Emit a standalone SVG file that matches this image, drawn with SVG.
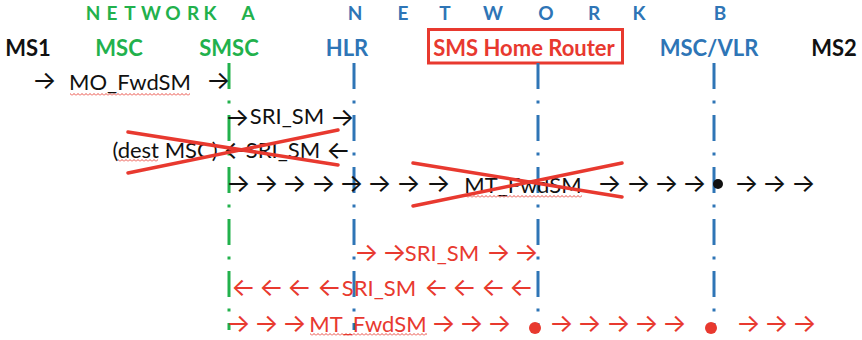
<svg xmlns="http://www.w3.org/2000/svg" width="862" height="340" viewBox="0 0 862 340">
  <style>
    .lbl { font-family: Lato, "Open Sans", sans-serif; font-size: 22px; text-anchor: middle; }
    .hd { font-weight: 700; }
    .net { font-family: Lato, "Open Sans", sans-serif; font-size: 19px; font-weight: 700; text-anchor: middle; white-space: pre; }
    .arw { font-family: Inter, "DejaVu Sans", sans-serif; font-size: 26px; }
    .blk { fill: #111; }
    .grn { fill: #22B14C; }
    .blu { fill: #2E75B6; }
    .red { fill: #E8392F; }
    .life { fill: none; stroke-width: 3; stroke-dasharray: 26 11.5 3 11.5; }
    .cross { stroke: #E8392F; stroke-width: 3.5; stroke-linecap: round; }
  </style>
  <defs>
    <pattern id="squiggle" width="4" height="3" patternUnits="userSpaceOnUse">
      <path d="M0,2.5 L2,0.5 L4,2.5" fill="none" stroke="#E8392F" stroke-width="0.9"/>
    </pattern>
  </defs>

  <rect width="862" height="340" fill="#fff"/>

  <!-- network titles -->
  <g id="network-a">
    <text class="net grn" y="20" xml:space="preserve" x="93 102 112 121 130 140 151 162 173 183 193 201 210 220 229 238 248">N E T W O R K   A</text>
  </g>
  <g id="network-b">
    <text class="net blu" y="20" xml:space="preserve" x="355 379 403 424 445 469 493 519 546 570 594 616 639 680 720">N E T W O R K B</text>
  </g>

  <!-- entities -->
  <g id="ms1"><text class="lbl hd blk" x="28" y="56">MS1</text></g>
  <g id="msc-a"><text class="lbl hd grn" x="119" y="56">MSC</text></g>
  <g id="smsc">
    <text class="lbl hd grn" x="229" y="56">SMSC</text>
    <line class="life" x1="229" y1="63" x2="229" y2="330" stroke="#22B14C"/>
  </g>
  <g id="hlr">
    <text class="lbl hd blu" x="347" y="56">HLR</text>
    <line class="life" x1="354" y1="63" x2="354" y2="330" stroke="#2E75B6"/>
  </g>
  <g id="sms-home-router">
    <rect x="428.5" y="29.5" width="194" height="33.5" fill="none" stroke="#E8392F" stroke-width="3"/>
    <text class="lbl hd red" x="524" y="56">SMS Home Router</text>
    <line class="life" x1="538" y1="63" x2="538" y2="330" stroke="#2E75B6"/>
  </g>
  <g id="msc-vlr">
    <text class="lbl hd blu" x="709" y="56">MSC/VLR</text>
    <line class="life" x1="714" y1="63" x2="714" y2="330" stroke="#2E75B6"/>
  </g>
  <g id="ms2"><text class="lbl hd blk" x="834" y="56">MS2</text></g>

  <!-- message flows -->
  <g id="connectors">
    <!-- MO_FwdSM: MS1 to SMSC -->
    <text class="arw blk" x="32" y="89">→</text>
    <text class="lbl blk" x="130" y="90">MO_FwdSM</text>
    <rect x="70" y="93" width="120" height="3" fill="url(#squiggle)"/>
    <text class="arw blk" x="206" y="89">→</text>

    <!-- SRI_SM: SMSC to HLR -->
    <text class="arw blk" x="225" y="126">→</text>
    <text class="lbl blk" x="287" y="124">SRI_SM</text>
    <text class="arw blk" x="330" y="126">→</text>

    <!-- SRI_SM response, struck out -->
    <text class="lbl blk" x="165" y="158">(dest MSC)</text>
    <rect x="118" y="159" width="40" height="3" fill="url(#squiggle)"/>
    <text class="arw blk" x="223" y="159">←</text>
    <text class="lbl blk" x="283" y="158">SRI_SM</text>
    <text class="arw blk" x="326" y="159">←</text>
    <line class="cross" x1="128" y1="132" x2="338" y2="165"/>
    <line class="cross" x1="128" y1="173" x2="338" y2="130"/>

    <!-- MT_FwdSM direct path, struck out -->
    <text class="arw blk" y="192" x="226 254 282 311 339 367 396 426">→→→→→→→→</text>
    <text class="lbl blk" x="523" y="193">MT_FwdSM</text>
    <rect x="465" y="195" width="117" height="3" fill="url(#squiggle)"/>
    <text class="arw blk" y="192" x="597 626 654 682 734 762 791">→→→→→→→</text>
    <circle cx="718" cy="184" r="5" fill="#111"/>
    <line class="cross" x1="413" y1="163" x2="622" y2="197"/>
    <line class="cross" x1="413" y1="206" x2="622" y2="163"/>

    <!-- SRI_SM: HLR to SMS Home Router -->
    <text class="arw red" y="261" x="354 382">→→</text>
    <text class="lbl red" x="442" y="261">SRI_SM</text>
    <text class="arw red" y="261" x="486 514">→→</text>

    <!-- SRI_SM response: SMS Home Router to SMSC -->
    <text class="arw red" y="296" x="231 259 287 317">←←←←</text>
    <text class="lbl red" x="379" y="296">SRI_SM</text>
    <text class="arw red" y="296" x="424 452 481 509">←←←←</text>

    <!-- MT_FwdSM via SMS Home Router -->
    <text class="arw red" y="332" x="226 254 282">→→→</text>
    <text class="lbl red" x="368" y="332">MT_FwdSM</text>
    <rect x="310" y="333" width="117" height="3" fill="url(#squiggle)"/>
    <text class="arw red" y="332" x="431 459 487 549 577 606 634 662 736 764 792">→→→→→→→→→→→</text>
    <circle cx="535" cy="328" r="6" fill="#E8392F"/>
    <circle cx="711" cy="328" r="6" fill="#E8392F"/>
  </g>
</svg>
